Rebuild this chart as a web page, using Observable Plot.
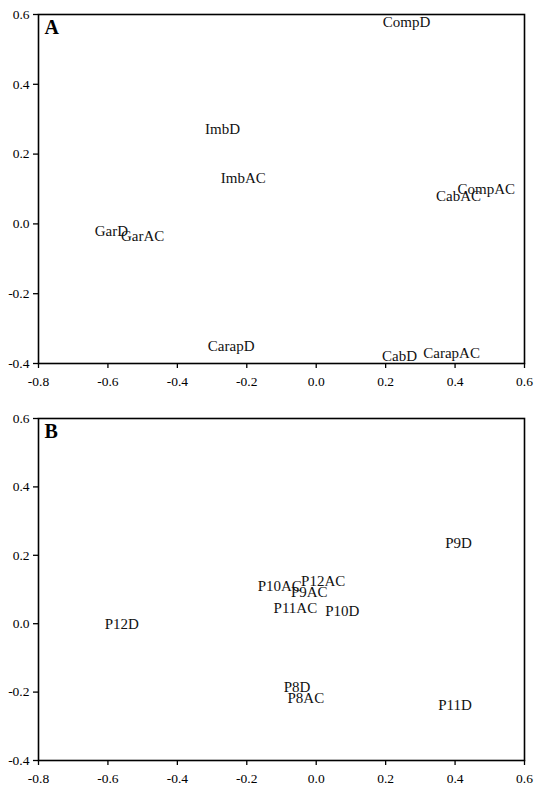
<!DOCTYPE html>
<html>
<head>
<meta charset="utf-8">
<script src="https://cdn.jsdelivr.net/npm/d3@7"></script>
<script src="https://cdn.jsdelivr.net/npm/@observablehq/plot@0.6"></script>
<style>
  html, body { margin: 0; padding: 0; background: #fff; }
  #chart svg { display: block; font-family: "Liberation Serif", "Times New Roman", serif; }
  #chart svg text { font-family: "Liberation Serif", "Times New Roman", serif; }
</style>
</head>
<body>
<div id="chart"></div>
<script>
// Axis ticks
const xTicks = [-0.8, -0.6, -0.4, -0.2, 0.0, 0.2, 0.4, 0.6];
const yTicks = [-0.4, -0.2, 0.0, 0.2, 0.4, 0.6];

// Panel A
const labelsA = ["CompD", "ImbD", "ImbAC", "CompAC", "CabAC", "GarD", "GarAC", "CarapD", "CabD", "CarapAC"];
const xA = [0.26, -0.27, -0.21, 0.49, 0.41, -0.59, -0.50, -0.245, 0.24, 0.39];
const yA = [0.577, 0.27, 0.13, 0.10, 0.08, -0.02, -0.035, -0.35, -0.378, -0.37];

// Panel B
const labelsB = ["P9D", "P12AC", "P10AC", "P9AC", "P11AC", "P10D", "P12D", "P8D", "P8AC", "P11D"];
const xB = [0.41, 0.02, -0.105, -0.02, -0.06, 0.075, -0.56, -0.055, -0.03, 0.40];
const yB = [0.235, 0.125, 0.11, 0.093, 0.045, 0.037, 0.0, -0.185, -0.218, -0.237];

const serif = "Liberation Serif";

function panel(letter, labels, xs, ys, height, marginTop, marginBottom) {
  const data = labels.map((t, i) => ({ t, x: xs[i], y: ys[i] }));
  return Plot.plot({
    width: 535,
    height,
    marginTop,
    marginBottom,
    marginLeft: 38,
    marginRight: 11,
    x: { domain: [-0.8, 0.6] },
    y: { domain: [-0.4, 0.6] },
    style: { fontFamily: serif, fontSize: "13.5px", color: "#000", background: "#fff" },
    marks: [
      Plot.axisX({ ticks: xTicks, tickFormat: d => d.toFixed(1), tickSize: 5, tickPadding: 8, label: null, fontSize: 13.5, fontFamily: serif, strokeWidth: 1.3 }),
      Plot.axisY({ ticks: yTicks, tickFormat: d => d.toFixed(1), tickSize: 5, tickPadding: 4, label: null, fontSize: 13.5, fontFamily: serif, strokeWidth: 1.3 }),
      Plot.frame({ stroke: "#000", strokeWidth: 1.6 }),
      Plot.text(data, { x: "x", y: "y", text: "t", fontSize: 15, fontFamily: serif, fill: "#111" }),
      Plot.text([letter], { frameAnchor: "top-left", dx: 6, dy: 5, fontSize: 20, fontWeight: "bold", fontFamily: serif, fill: "#000" })
    ]
  });
}

const root = document.getElementById("chart");
root.append(panel("A", labelsA, xA, yA, 390, 14, 27));
root.append(panel("B", labelsB, xB, yB, 397, 28, 27));
</script>
</body>
</html>
